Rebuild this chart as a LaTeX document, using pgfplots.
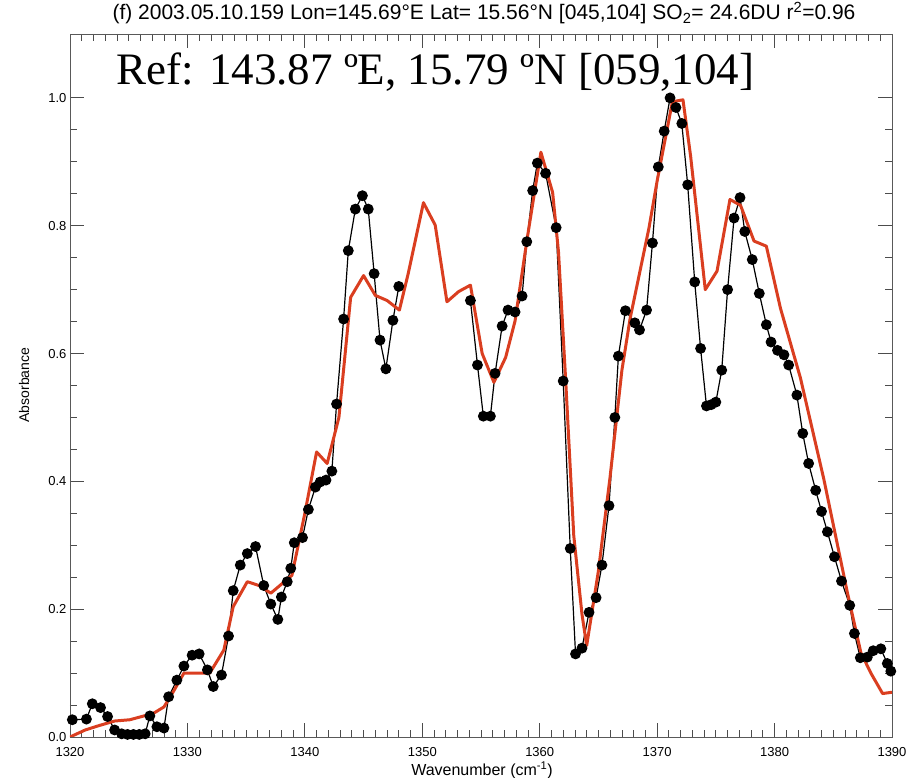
\documentclass[border=0pt]{standalone}
\usepackage{fontspec}
\setmainfont{Liberation Sans}
\newfontfamily\timesfont{Liberation Serif}
\usepackage{pgfplots}
\pgfplotsset{compat=1.18}
\definecolor{modelred}{RGB}{218,62,32}
\pgfplotstableread{
x y
1320.2 0.027
1321.4 0.028
1321.9 0.052
1322.6 0.046
1323.2 0.032
1323.8 0.011
1324.4 0.005
1324.9 0.004
1325.4 0.004
1325.9 0.004
1326.4 0.005
1326.8 0.033
1327.4 0.016
1328.0 0.014
1328.4 0.063
1329.1 0.089
1329.7 0.111
1330.4 0.128
1331.0 0.130
1331.7 0.105
1332.2 0.079
1332.9 0.097
1333.5 0.158
1333.9 0.229
1334.5 0.269
1335.1 0.287
1335.8 0.298
1336.5 0.237
1337.1 0.208
1337.7 0.184
1338.0 0.219
1338.5 0.243
1338.8 0.264
1339.1 0.304
1339.8 0.312
1340.3 0.356
1340.9 0.391
1341.3 0.399
1341.8 0.402
1342.3 0.416
1342.7 0.521
1343.3 0.654
1343.7 0.761
1344.3 0.826
1344.9 0.847
1345.4 0.826
1345.9 0.725
1346.4 0.621
1346.9 0.576
1347.5 0.652
1348.0 0.705
1351.0 nan
1354.1 0.683
1354.7 0.582
1355.2 0.502
1355.8 0.502
1356.2 0.569
1356.8 0.643
1357.3 0.668
1357.9 0.665
1358.5 0.690
1358.9 0.775
1359.4 0.855
1359.8 0.898
1360.5 0.882
1361.4 0.797
1362.0 0.557
1362.6 0.295
1363.05 0.130
1363.6 0.139
1364.2 0.195
1364.8 0.218
1365.3 0.269
1365.9 0.362
1366.4 0.500
1366.7 0.596
1367.3 0.667
1368.1 0.648
1368.5 0.637
1369.1 0.668
1369.6 0.773
1370.1 0.892
1370.6 0.948
1371.1 1.000
1371.6 0.985
1372.1 0.960
1372.6 0.864
1373.2 0.712
1373.7 0.608
1374.2 0.518
1374.6 0.520
1375.0 0.524
1375.5 0.574
1376.0 0.700
1376.55 0.812
1377.06 0.844
1377.46 0.791
1378.1 0.747
1378.7 0.694
1379.3 0.645
1379.7 0.618
1380.25 0.605
1380.8 0.598
1381.2 0.582
1381.9 0.535
1382.4 0.475
1382.9 0.428
1383.5 0.386
1384.0 0.353
1384.5 0.321
1385.1 0.282
1385.7 0.244
1386.4 0.206
1386.8 0.162
1387.3 0.124
1387.9 0.125
1388.4 0.135
1389.05 0.138
1389.6 0.115
1389.9 0.103
}\obsdata
\pgfplotstableread{
x y
1320.0 0.000
1321.3 0.011
1322.5 0.018
1323.8 0.025
1325.1 0.027
1327.1 0.037
1328.0 0.047
1328.8 0.071
1329.7 0.100
1330.4 0.100
1331.9 0.100
1333.1 0.136
1333.9 0.204
1335.1 0.243
1336.1 0.237
1337.1 0.225
1338.9 0.253
1340.0 0.350
1341.0 0.446
1341.9 0.428
1342.9 0.500
1343.9 0.688
1345.0 0.722
1346.0 0.691
1347.0 0.683
1348.05 0.668
1348.8 0.725
1350.1 0.836
1351.1 0.801
1352.1 0.681
1353.1 0.697
1354.1 0.707
1355.1 0.600
1356.1 0.555
1357.1 0.594
1357.9 0.651
1358.9 0.776
1360.1 0.915
1361.1 0.852
1361.6 0.759
1362.2 0.562
1362.9 0.315
1363.6 0.192
1364.0 0.143
1365.0 0.260
1366.0 0.408
1367.0 0.574
1367.7 0.655
1369.3 0.796
1370.0 0.870
1371.3 0.994
1372.2 0.997
1372.85 0.909
1374.1 0.700
1375.1 0.729
1376.2 0.841
1377.1 0.832
1378.25 0.776
1379.3 0.768
1380.5 0.671
1382.2 0.562
1384.2 0.403
1386.2 0.226
1387.35 0.132
1388.2 0.100
1389.2 0.068
1390.0 0.070
}\modeldata
\begin{document}
\begin{tikzpicture}
\path[use as bounding box] (-70pt,-41pt) rectangle (853pt,737pt);
\begin{axis}[
  at={(0,0)}, anchor=south west,
  scale only axis, width=822pt, height=703pt,
  xmin=1320, xmax=1390, ymin=0, ymax=1.1,
  xtick={1320,1330,1340,1350,1360,1370,1380,1390},
  minor x tick num=9,
  ytick={0,0.2,0.4,0.6,0.8,1.0},
  minor y tick num=3,
  xtick pos=both, ytick pos=both,
  xticklabel pos=bottom, yticklabel pos=left,
  tick align=inside,
  major tick length=14pt, minor tick length=7pt,
  axis line style={black!65, line width=0.9pt},
  every tick/.style={black!70, line width=0.8pt},
  tick label style={font=\fontsize{13}{13}\selectfont},
  /pgf/number format/assume math mode=true,
  xticklabel style={/pgf/number format/1000 sep={}, yshift=-7pt},
  yticklabel style={/pgf/number format/.cd, fixed, fixed zerofill, precision=1},
  unbounded coords=jump,
]
\addplot[black, line width=1.2pt, mark=*, mark size=4.8pt, mark options={fill=black, solid}] table[x=x, y=y] {\obsdata};
\addplot[modelred, line width=3pt, line join=round] table[x=x, y=y] {\modeldata};
\end{axis}
\node[anchor=base, font=\fontsize{21}{21}\selectfont] at (414pt,717pt) {(f) 2003.05.10.159 Lon=145.69°E Lat= 15.56°N [045,104] SO\textsubscript{2}= 24.6DU r\textsuperscript{2}=0.96};
\node[anchor=base west, font=\timesfont\fontsize{45}{45}\selectfont] at (43pt,652pt) {Ref: 143.87 ºE, 15.79 ºN [059,104]};
\node[rotate=90, font=\fontsize{14}{14}\selectfont] at (-46pt,352pt) {Absorbance};
\node[font=\fontsize{16}{16}\selectfont] at (412pt,-33pt) {Wavenumber (cm\textsuperscript{-1})};
\end{tikzpicture}
\end{document}
